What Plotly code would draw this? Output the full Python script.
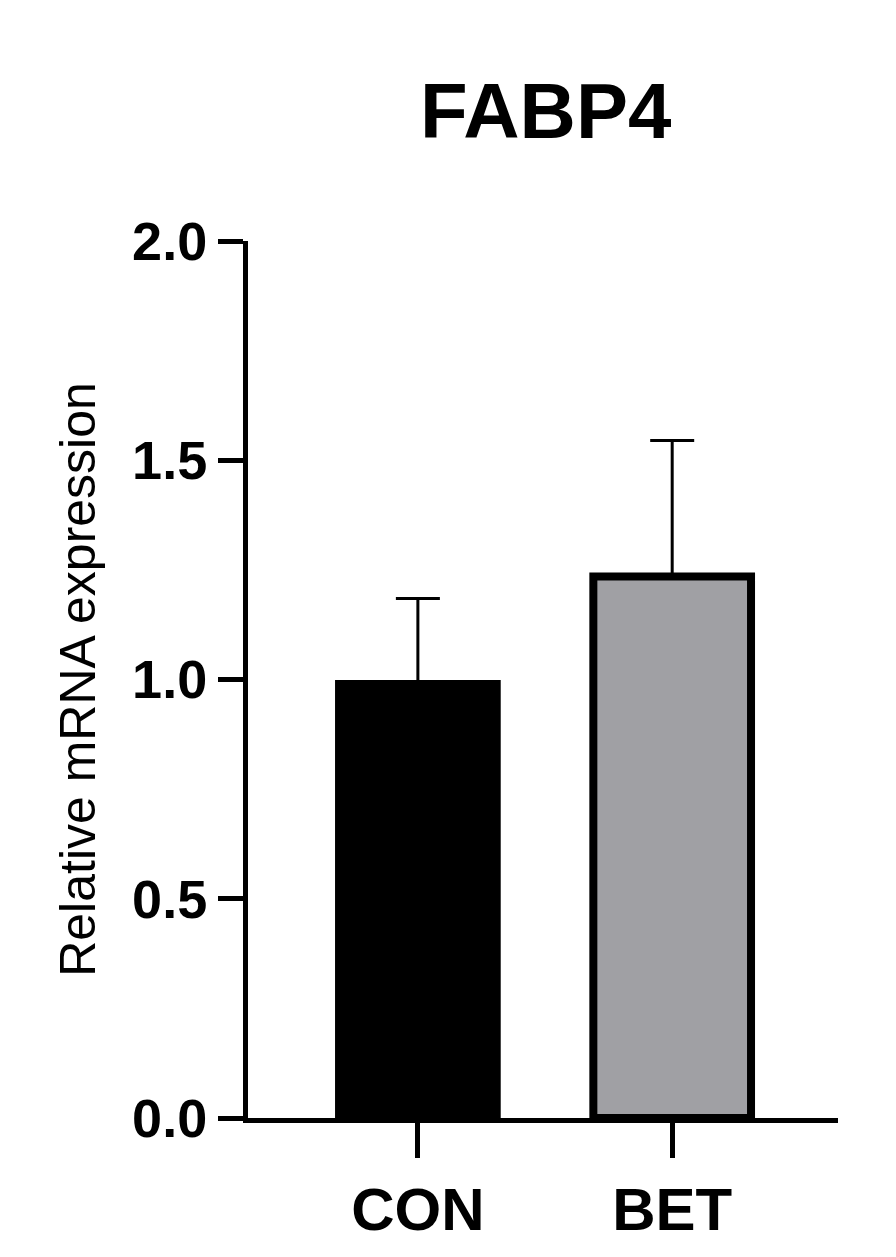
import plotly.graph_objects as go

categories = ["CON", "BET"]
means = [0.99, 1.235]
errors = [0.195, 0.31]
colors = ["#000000", "#a0a0a4"]

fig = go.Figure(go.Bar(
    x=categories, y=means, width=0.62,
    marker=dict(color=colors, line=dict(color="black", width=8)),
    error_y=dict(type="data", array=errors, arrayminus=[0, 0], symmetric=False,
                 color="black", thickness=3, width=22),
))
font = "Liberation Sans, Arial, sans-serif"
fig.update_layout(
    width=896, height=1257, plot_bgcolor="white", paper_bgcolor="white",
    margin=dict(l=240, r=66, t=233, b=147),
    title=dict(text="<b>FABP4</b>", x=0.6, xanchor="center", y=0.918, yanchor="middle",
               font=dict(family=font, size=78, color="black")),
    showlegend=False,
)
fig.update_yaxes(range=[0, 2.0], tickvals=[0, 0.5, 1.0, 1.5, 2.0], ticktext=["0.0", "0.5", "1.0", "1.5", "2.0"],
                 showline=True, linecolor="black", linewidth=5, ticks="outside", ticklen=25, tickwidth=5,
                 tickcolor="black", showgrid=False, zeroline=False,
                 tickfont=dict(family=font, size=54, color="black", weight="bold"),
                 title=dict(text="Relative mRNA expression", font=dict(family=font, size=50, color="black"), standoff=22))
fig.update_xaxes(range=[-0.668, 1.652], showline=True, linecolor="black", linewidth=5, ticks="outside",
                 ticklen=35, tickwidth=5, tickcolor="black", showgrid=False,
                 tickfont=dict(family=font, size=60, color="black", weight="bold"))
fig.write_html("out.html")
